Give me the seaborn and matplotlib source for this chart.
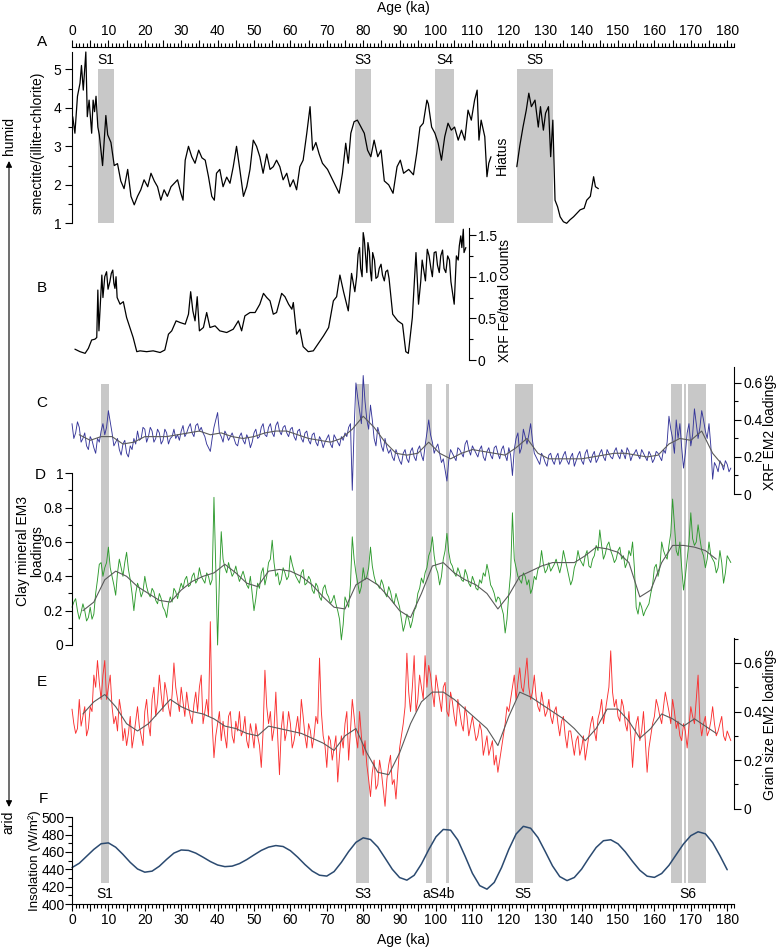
import numpy as np
import matplotlib
matplotlib.use("Agg")
import matplotlib.pyplot as plt
import seaborn as sns
from matplotlib.ticker import MultipleLocator, FuncFormatter
from matplotlib.patches import FancyArrowPatch

### Data ###
# A: smectite/(illite+chlorite), before and after the hiatus
A1_AGE = [0.2, 0.8, 1.5, 2.2, 2.6, 3.1, 3.8, 4.2, 4.7, 5.4,
          5.8, 6.2, 6.6, 7.1, 7.5, 8.4, 8.9, 9.3, 9.8, 10.7,
          11.6, 12.5, 13.4, 14.3, 15.3, 16.2, 17.1, 18.0, 18.9, 19.8,
          20.8, 21.7, 22.6, 23.5, 24.4, 25.3, 26.2, 27.2, 28.1, 29.0,
          29.9, 30.5, 31.1, 32.0, 32.9, 33.8, 34.8, 35.7, 36.6, 37.5,
          38.4, 39.1, 39.7, 40.6, 41.5, 42.5, 43.4, 44.3, 45.2, 46.1,
          47.1, 48.0, 48.9, 49.8, 50.7, 51.6, 52.5, 53.5, 54.4, 55.3,
          56.2, 57.1, 58.0, 59.0, 59.9, 60.8, 61.7, 62.6, 63.5, 64.5,
          65.4, 66.1, 67.0, 67.9, 68.8, 70.2, 71.6, 72.5, 73.4, 74.3,
          75.2, 75.9, 76.6, 77.5, 78.4, 79.4, 80.3, 81.2, 82.1, 83.0,
          84.0, 84.9, 85.8, 87.0, 88.2, 89.3, 90.2, 91.1, 92.5, 93.8,
          94.7, 95.6, 96.5, 97.5, 97.9, 98.8, 99.7, 100.6, 101.5, 102.4,
          103.3, 104.2, 105.1, 106.1, 107.0, 107.9, 108.8, 109.7, 110.6, 111.3,
          111.8, 112.4, 113.4, 114.0, 114.5, 115.1]
A1_VAL = [3.77, 3.34, 4.3, 4.64, 5.1, 4.46, 5.45, 3.77, 4.2, 3.34,
          4.2, 3.9, 4.3, 3.5, 3.3, 2.5, 3.2, 3.8, 3.3, 3.1,
          2.5, 2.55, 2.1, 1.9, 2.4, 1.7, 1.48, 1.7, 1.87, 2.13,
          1.95, 2.3, 2.1, 1.95, 1.6, 1.87, 1.7, 1.95, 2.04, 2.13,
          1.78, 1.6, 2.64, 3.0, 2.73, 2.56, 2.9, 2.7, 2.64, 2.21,
          1.7, 1.6, 2.3, 2.4, 1.95, 2.2, 2.04, 2.47, 3.0, 2.4,
          1.7, 1.95, 2.4, 3.16, 3.0, 2.73, 2.3, 2.8, 2.4, 2.47,
          2.64, 2.47, 2.13, 2.3, 1.95, 2.13, 1.87, 2.47, 2.64, 3.34,
          4.03, 2.9, 3.1, 2.8, 2.56, 2.4, 2.13, 1.95, 1.78, 2.3,
          3.08, 2.56, 3.34, 3.64, 3.68, 3.5, 3.34, 2.9, 2.73, 3.16,
          2.73, 2.9, 2.1, 2.0, 1.78, 2.47, 2.64, 2.3, 2.4, 2.26,
          2.82, 3.5, 3.6, 4.2, 4.1, 3.5, 3.34, 3.08, 2.64, 3.25,
          3.6, 3.42, 3.5, 3.16, 3.42, 3.16, 3.94, 3.68, 4.2, 4.46,
          3.16, 3.68, 3.25, 2.21, 2.56, 2.73]
A2_AGE = [122.2, 123.0, 123.9, 124.8, 125.5, 126.2, 127.2, 128.1, 128.7, 129.5,
          130.1, 130.9, 131.5, 132.1, 132.7, 133.4, 134.1, 135.0, 135.9, 136.8,
          137.8, 138.7, 139.6, 140.7, 141.4, 142.4, 143.3, 143.8, 144.6]
A2_VAL = [2.47, 3.0, 3.5, 3.94, 4.38, 4.03, 4.2, 3.5, 4.03, 3.42,
          3.86, 4.03, 2.73, 3.68, 1.6, 1.43, 1.17, 1.04, 1.0, 1.09,
          1.17, 1.26, 1.35, 1.39, 1.6, 1.7, 2.21, 1.95, 1.9]

# B: XRF Fe/total counts
B_AGE = [0.8, 2.2, 3.6, 4.5, 5.4, 6.3, 6.8, 7.1, 7.4, 8.2,
         8.8, 9.5, 10.4, 11.2, 11.8, 12.4, 13.2, 14.1, 15.0, 15.9,
         16.8, 17.8, 18.7, 20.5, 22.3, 24.2, 25.5, 26.5, 27.4, 28.6,
         29.7, 31.1, 32.0, 32.6, 33.2, 33.8, 34.4, 35.0, 36.1, 37.0,
         37.9, 39.3, 40.6, 42.5, 44.3, 45.7, 46.6, 47.5, 48.9, 50.3,
         51.6, 52.6, 53.5, 54.4, 55.3, 56.2, 57.6, 58.5, 59.5, 60.4,
         60.8, 61.7, 62.6, 63.5, 64.9, 66.3, 67.7, 69.1, 70.5, 71.8,
         72.7, 73.6, 74.6, 75.9, 76.8, 77.7, 78.6, 79.3, 80.0, 80.7,
         81.3, 82.0, 82.6, 83.5, 84.4, 85.3, 86.2, 87.1, 88.1, 89.5,
         90.8, 91.7, 92.4, 93.5, 94.5, 95.2, 95.8, 96.7, 97.6, 98.6,
         99.5, 100.4, 101.3, 102.2, 103.2, 104.1, 105.0, 105.6, 106.4, 106.8,
         107.5, 107.7, 108.2]
B_VAL = [0.13, 0.1, 0.08, 0.14, 0.24, 0.25, 0.27, 0.84, 0.35, 1.02,
         0.9, 1.06, 0.94, 1.08, 0.86, 0.75, 0.67, 0.7, 0.51, 0.39,
         0.27, 0.1, 0.11, 0.1, 0.11, 0.09, 0.12, 0.31, 0.35, 0.47,
         0.45, 0.43, 0.55, 0.82, 0.59, 0.47, 0.76, 0.35, 0.39, 0.57,
         0.39, 0.41, 0.35, 0.33, 0.37, 0.47, 0.35, 0.53, 0.57, 0.57,
         0.67, 0.8, 0.75, 0.71, 0.55, 0.57, 0.8, 0.76, 0.67, 0.61,
         0.69, 0.31, 0.37, 0.16, 0.1, 0.11, 0.2, 0.29, 0.39, 0.71,
         0.76, 1.02, 0.82, 0.59, 1.04, 0.82, 1.27, 1.1, 1.53, 1.22,
         1.41, 1.06, 1.29, 0.98, 1.1, 1.02, 1.06, 0.98, 0.55, 0.47,
         0.43, 0.1, 0.08, 0.51, 1.29, 0.67, 0.94, 1.06, 1.33, 1.1,
         1.29, 1.14, 1.25, 1.1, 1.25, 0.94, 0.67, 1.25, 1.37, 1.49,
         1.57, 1.29, 1.35]
# extra samples in the densely sampled stretches of B
B_EXTRA_AGE = [8.5, 9.0, 9.9, 10.8, 11.5, 12.1, 78.2, 79.0, 79.7, 80.3,
               81.0, 81.7, 82.3, 83.1, 84.0, 84.9, 85.8, 86.7, 96.2, 97.1,
               98.1, 99.0, 100.0, 100.9, 101.8, 102.7, 103.7, 106.1, 107.1]
B_EXTRA_VAL = [0.75, 1.0, 0.85, 1.04, 0.92, 1.0, 1.0, 1.35, 1.0, 1.45,
               1.05, 1.3, 0.95, 1.2, 1.0, 1.15, 0.95, 1.08, 1.2, 0.95,
               1.25, 1.0, 1.3, 1.05, 1.32, 1.05, 1.2, 1.2, 1.35]

# C: XRF EM2 loadings, whole ka (0..181) and half ka (0.5..180.5)
C_RAW = [0.38, 0.33, 0.36, 0.30, 0.26, 0.31, 0.25, 0.30, 0.34, 0.32,
         0.45, 0.33, 0.28, 0.24, 0.27, 0.22, 0.26, 0.30, 0.34, 0.30,
         0.35, 0.31, 0.34, 0.30, 0.33, 0.29, 0.33, 0.30, 0.35, 0.32,
         0.34, 0.31, 0.36, 0.33, 0.37, 0.34, 0.33, 0.27, 0.23, 0.36,
         0.44, 0.31, 0.34, 0.29, 0.33, 0.27, 0.31, 0.29, 0.32, 0.25,
         0.33, 0.30, 0.36, 0.32, 0.36, 0.33, 0.37, 0.34, 0.36, 0.33,
         0.35, 0.31, 0.34, 0.30, 0.33, 0.29, 0.32, 0.28, 0.31, 0.25,
         0.30, 0.27, 0.32, 0.28, 0.31, 0.33, 0.36, 0.02, 0.60, 0.45,
         0.64, 0.40, 0.48, 0.30, 0.36, 0.26, 0.30, 0.22, 0.20, 0.24,
         0.18, 0.22, 0.19, 0.23, 0.20, 0.24, 0.21, 0.26, 0.40, 0.28,
         0.25, 0.22, 0.19, 0.07, 0.24, 0.20, 0.25, 0.22, 0.27, 0.24,
         0.26, 0.22, 0.24, 0.20, 0.23, 0.21, 0.25, 0.22, 0.24, 0.21,
         0.25, 0.10, 0.30, 0.22, 0.35, 0.27, 0.38, 0.22, 0.18, 0.22,
         0.17, 0.21, 0.18, 0.20, 0.16, 0.21, 0.18, 0.20, 0.15, 0.21,
         0.18, 0.22, 0.19, 0.21, 0.17, 0.22, 0.20, 0.24, 0.20, 0.23,
         0.21, 0.24, 0.19, 0.23, 0.21, 0.24, 0.19, 0.22, 0.18, 0.21,
         0.19, 0.22, 0.18, 0.22, 0.42, 0.30, 0.40, 0.38, 0.14, 0.33,
         0.26, 0.46, 0.30, 0.45, 0.34, 0.38, 0.08, 0.15, 0.18, 0.13,
         0.16, 0.14]
C_MID = [0.30, 0.39, 0.28, 0.33, 0.24, 0.29, 0.22, 0.28, 0.38, 0.36,
         0.39, 0.26, 0.30, 0.21, 0.29, 0.20, 0.24, 0.27, 0.29, 0.36,
         0.28, 0.36, 0.28, 0.35, 0.27, 0.35, 0.27, 0.31, 0.30, 0.29,
         0.37, 0.33, 0.38, 0.31, 0.38, 0.36, 0.31, 0.25, 0.30, 0.40,
         0.33, 0.28, 0.32, 0.31, 0.30, 0.26, 0.33, 0.27, 0.30, 0.28,
         0.35, 0.31, 0.38, 0.31, 0.38, 0.31, 0.39, 0.32, 0.37, 0.31,
         0.36, 0.29, 0.35, 0.28, 0.34, 0.27, 0.33, 0.26, 0.29, 0.28,
         0.32, 0.25, 0.30, 0.26, 0.29, 0.31, 0.38, 0.35, 0.52, 0.38,
         0.50, 0.35, 0.40, 0.26, 0.32, 0.23, 0.25, 0.24, 0.18, 0.21,
         0.16, 0.24, 0.17, 0.25, 0.18, 0.26, 0.18, 0.33, 0.32, 0.22,
         0.27, 0.17, 0.13, 0.18, 0.22, 0.18, 0.24, 0.20, 0.29, 0.21,
         0.24, 0.20, 0.26, 0.18, 0.25, 0.19, 0.26, 0.19, 0.26, 0.18,
         0.21, 0.24, 0.33, 0.25, 0.31, 0.32, 0.29, 0.20, 0.16, 0.20,
         0.15, 0.22, 0.16, 0.22, 0.18, 0.23, 0.16, 0.22, 0.18, 0.23,
         0.16, 0.24, 0.17, 0.23, 0.19, 0.24, 0.18, 0.22, 0.19, 0.25,
         0.19, 0.22, 0.25, 0.18, 0.22, 0.21, 0.24, 0.20, 0.23, 0.17,
         0.23, 0.20, 0.24, 0.28, 0.35, 0.22, 0.30, 0.25, 0.22, 0.38,
         0.32, 0.38, 0.36, 0.40, 0.30, 0.26, 0.17, 0.12, 0.16, 0.18,
         0.12]
C_SMOOTH = [0.32, 0.29, 0.31, 0.31, 0.27, 0.28, 0.31, 0.31, 0.31, 0.32,
            0.33, 0.34, 0.32, 0.33, 0.31, 0.30, 0.31, 0.33, 0.34, 0.34,
            0.32, 0.30, 0.29, 0.28, 0.30, 0.35, 0.42, 0.36, 0.28, 0.22,
            0.21, 0.22, 0.28, 0.22, 0.19, 0.22, 0.24, 0.23, 0.22, 0.21,
            0.25, 0.30, 0.22, 0.19, 0.19, 0.19, 0.19, 0.20, 0.21, 0.22,
            0.22, 0.21, 0.20, 0.21, 0.27, 0.30, 0.29, 0.34, 0.22, 0.15]
C_SMOOTH_AGE = np.arange(2, 180, 3)

# D: clay mineral EM3 loadings, whole ka and half ka
D_RAW = [0.22, 0.27, 0.15, 0.24, 0.14, 0.22, 0.18, 0.38, 0.48, 0.45,
         0.57, 0.40, 0.29, 0.50, 0.40, 0.54, 0.38, 0.20, 0.36, 0.28,
         0.40, 0.30, 0.33, 0.26, 0.30, 0.22, 0.16, 0.28, 0.33, 0.27,
         0.36, 0.38, 0.34, 0.40, 0.36, 0.45, 0.38, 0.42, 0.35, 0.86,
         0.00, 0.66, 0.45, 0.48, 0.40, 0.46, 0.37, 0.43, 0.35, 0.40,
         0.20, 0.36, 0.42, 0.35, 0.48, 0.61, 0.40, 0.35, 0.45, 0.38,
         0.52, 0.43, 0.38, 0.42, 0.35, 0.40, 0.32, 0.36, 0.28, 0.33,
         0.30, 0.24, 0.29, 0.20, 0.03, 0.28, 0.22, 0.63, 0.42, 0.30,
         0.45, 0.40, 0.57, 0.40, 0.35, 0.38, 0.30, 0.34, 0.26, 0.30,
         0.22, 0.08, 0.18, 0.10, 0.20, 0.30, 0.39, 0.42, 0.52, 0.63,
         0.45, 0.35, 0.50, 0.65, 0.48, 0.42, 0.45, 0.38, 0.44, 0.36,
         0.40, 0.33, 0.38, 0.42, 0.47, 0.35, 0.30, 0.28, 0.22, 0.07,
         0.30, 0.77, 0.45, 0.38, 0.42, 0.35, 0.30, 0.40, 0.44, 0.55,
         0.42, 0.48, 0.45, 0.50, 0.42, 0.55, 0.45, 0.35, 0.45, 0.55,
         0.48, 0.52, 0.46, 0.50, 0.58, 0.67, 0.50, 0.58, 0.55, 0.48,
         0.55, 0.50, 0.45, 0.55, 0.60, 0.22, 0.25, 0.17, 0.22, 0.30,
         0.45, 0.40, 0.60, 0.52, 0.58, 0.85, 0.55, 0.60, 0.32, 0.50,
         0.77, 0.58, 0.70, 0.55, 0.45, 0.60, 0.50, 0.42, 0.55, 0.36,
         0.52, 0.48]
D_MID = [0.25, 0.20, 0.19, 0.20, 0.16, 0.15, 0.30, 0.47, 0.40, 0.48,
         0.45, 0.35, 0.42, 0.45, 0.48, 0.44, 0.30, 0.30, 0.33, 0.31,
         0.34, 0.28, 0.31, 0.24, 0.27, 0.20, 0.24, 0.25, 0.31, 0.32,
         0.33, 0.40, 0.35, 0.42, 0.38, 0.40, 0.36, 0.40, 0.38, 0.45,
         0.38, 0.50, 0.42, 0.44, 0.42, 0.41, 0.40, 0.39, 0.33, 0.30,
         0.27, 0.33, 0.45, 0.40, 0.50, 0.48, 0.42, 0.38, 0.42, 0.40,
         0.47, 0.40, 0.36, 0.44, 0.36, 0.38, 0.30, 0.34, 0.26, 0.35,
         0.28, 0.26, 0.24, 0.15, 0.12, 0.25, 0.35, 0.50, 0.36, 0.34,
         0.38, 0.45, 0.46, 0.36, 0.33, 0.35, 0.28, 0.31, 0.24, 0.26,
         0.15, 0.12, 0.15, 0.14, 0.22, 0.33, 0.36, 0.45, 0.55, 0.52,
         0.42, 0.40, 0.55, 0.54, 0.46, 0.40, 0.42, 0.37, 0.41, 0.34,
         0.37, 0.32, 0.36, 0.40, 0.42, 0.33, 0.25, 0.27, 0.18, 0.15,
         0.42, 0.50, 0.40, 0.36, 0.40, 0.38, 0.33, 0.38, 0.46, 0.47,
         0.44, 0.43, 0.47, 0.46, 0.47, 0.50, 0.40, 0.38, 0.48, 0.50,
         0.46, 0.55, 0.45, 0.52, 0.55, 0.58, 0.53, 0.60, 0.52, 0.50,
         0.57, 0.52, 0.48, 0.52, 0.45, 0.18, 0.22, 0.20, 0.24, 0.35,
         0.47, 0.45, 0.55, 0.50, 0.65, 0.70, 0.52, 0.45, 0.40, 0.60,
         0.62, 0.60, 0.62, 0.52, 0.50, 0.52, 0.48, 0.45, 0.48, 0.42,
         0.50]
D_SMOOTH = [0.20, 0.25, 0.38, 0.43, 0.40, 0.34, 0.30, 0.26, 0.25, 0.32,
            0.37, 0.40, 0.42, 0.47, 0.42, 0.36, 0.34, 0.43, 0.44, 0.43,
            0.40, 0.35, 0.28, 0.22, 0.21, 0.35, 0.39, 0.35, 0.28, 0.20,
            0.16, 0.30, 0.46, 0.48, 0.42, 0.38, 0.35, 0.30, 0.21, 0.29,
            0.40, 0.43, 0.46, 0.48, 0.48, 0.48, 0.52, 0.57, 0.56, 0.54,
            0.48, 0.28, 0.32, 0.48, 0.58, 0.58, 0.57, 0.55, 0.50]
D_SMOOTH_AGE = np.arange(3, 178, 3)

# E: grain size EM2 loadings, whole ka and half ka
E_RAW = [0.41, 0.31, 0.45, 0.38, 0.30, 0.42, 0.55, 0.61, 0.45, 0.61,
         0.50, 0.42, 0.38, 0.45, 0.28, 0.26, 0.38, 0.30, 0.42, 0.30,
         0.40, 0.35, 0.45, 0.38, 0.55, 0.40, 0.48, 0.38, 0.60, 0.45,
         0.50, 0.38, 0.42, 0.35, 0.48, 0.50, 0.35, 0.45, 0.77, 0.21,
         0.35, 0.28, 0.30, 0.38, 0.30, 0.36, 0.40, 0.32, 0.28, 0.35,
         0.25, 0.30, 0.17, 0.57, 0.35, 0.28, 0.48, 0.14, 0.40, 0.32,
         0.35, 0.28, 0.38, 0.45, 0.30, 0.35, 0.25, 0.38, 0.62, 0.30,
         0.17, 0.28, 0.25, 0.11, 0.30, 0.35, 0.20, 0.45, 0.30, 0.40,
         0.22, 0.18, 0.05, 0.20, 0.10, 0.15, 0.01, 0.18, 0.10, 0.04,
         0.25, 0.35, 0.64, 0.40, 0.63, 0.45, 0.50, 0.63, 0.59, 0.48,
         0.55, 0.45, 0.50, 0.40, 0.48, 0.38, 0.45, 0.35, 0.42, 0.30,
         0.38, 0.28, 0.35, 0.22, 0.30, 0.25, 0.18, 0.15, 0.25, 0.35,
         0.40, 0.50, 0.45, 0.58, 0.48, 0.62, 0.45, 0.55, 0.42, 0.48,
         0.38, 0.45, 0.35, 0.42, 0.30, 0.38, 0.25, 0.32, 0.22, 0.30,
         0.25, 0.20, 0.30, 0.38, 0.28, 0.40, 0.35, 0.45, 0.65, 0.42,
         0.38, 0.45, 0.35, 0.40, 0.17, 0.35, 0.28, 0.40, 0.15, 0.30,
         0.38, 0.42, 0.35, 0.48, 0.40, 0.45, 0.33, 0.30, 0.35, 0.25,
         0.42, 0.35, 0.55, 0.30, 0.38, 0.32, 0.42, 0.30, 0.35, 0.30,
         0.32, 0.28]
E_MID = [0.35, 0.33, 0.34, 0.42, 0.33, 0.40, 0.50, 0.52, 0.55, 0.45,
         0.55, 0.35, 0.32, 0.40, 0.33, 0.31, 0.25, 0.36, 0.34, 0.26,
         0.45, 0.30, 0.50, 0.44, 0.47, 0.52, 0.42, 0.47, 0.50, 0.40,
         0.44, 0.48, 0.38, 0.43, 0.40, 0.55, 0.40, 0.38, 0.35, 0.30,
         0.40, 0.36, 0.25, 0.40, 0.27, 0.32, 0.30, 0.38, 0.25, 0.31,
         0.35, 0.26, 0.32, 0.42, 0.40, 0.33, 0.30, 0.33, 0.28, 0.40,
         0.25, 0.33, 0.30, 0.38, 0.25, 0.32, 0.30, 0.35, 0.40, 0.26,
         0.30, 0.20, 0.30, 0.22, 0.25, 0.40, 0.32, 0.38, 0.25, 0.30,
         0.28, 0.12, 0.15, 0.08, 0.20, 0.08, 0.12, 0.22, 0.12, 0.15,
         0.30, 0.42, 0.48, 0.50, 0.40, 0.55, 0.45, 0.50, 0.55, 0.42,
         0.50, 0.40, 0.52, 0.38, 0.44, 0.34, 0.40, 0.32, 0.38, 0.34,
         0.33, 0.30, 0.32, 0.26, 0.22, 0.28, 0.22, 0.20, 0.30, 0.42,
         0.45, 0.55, 0.52, 0.50, 0.55, 0.50, 0.48, 0.46, 0.40, 0.43,
         0.40, 0.38, 0.40, 0.35, 0.36, 0.30, 0.32, 0.27, 0.28, 0.22,
         0.30, 0.25, 0.35, 0.32, 0.37, 0.45, 0.40, 0.50, 0.48, 0.45,
         0.36, 0.42, 0.32, 0.30, 0.28, 0.38, 0.32, 0.28, 0.25, 0.35,
         0.45, 0.38, 0.42, 0.44, 0.35, 0.40, 0.36, 0.28, 0.32, 0.34,
         0.38, 0.45, 0.36, 0.35, 0.30, 0.36, 0.35, 0.32, 0.38, 0.28,
         0.30]
E_SMOOTH = [0.39, 0.44, 0.47, 0.42, 0.35, 0.32, 0.35, 0.40, 0.45, 0.42,
            0.40, 0.39, 0.37, 0.34, 0.33, 0.31, 0.30, 0.34, 0.33, 0.32,
            0.31, 0.29, 0.27, 0.24, 0.30, 0.33, 0.23, 0.15, 0.14, 0.23,
            0.35, 0.44, 0.48, 0.48, 0.45, 0.41, 0.37, 0.33, 0.26, 0.38,
            0.48, 0.46, 0.43, 0.40, 0.37, 0.33, 0.28, 0.33, 0.41, 0.41,
            0.36, 0.29, 0.33, 0.39, 0.37, 0.34, 0.37, 0.34, 0.31]
E_SMOOTH_AGE = np.arange(3, 178, 3)

# F: insolation (W/m2), every 2 ka from 0 ka
F_INSOL = [442, 447, 455, 463, 469.5, 470.5, 465.5, 457.2, 448.0, 440.4,
           436.7, 437.9, 443.6, 451.5, 458.7, 462.3, 461.8, 458.7, 454.0, 449.0,
           445.0, 443.1, 443.7, 446.6, 451.2, 456.6, 461.8, 465.6, 467.4, 466.3,
           461.5, 454.0, 445.5, 438.0, 433.2, 432.2, 437.4, 448.0, 460.5, 471.1,
           476.3, 474.4, 465.8, 453.0, 440.0, 430.5, 427.5, 433.1, 446.2, 462.7,
           477.5, 486.0, 485.2, 473.7, 455.1, 435.4, 421.2, 417.1, 424.9, 442.0,
           463.0, 480.7, 489.6, 487.4, 476.7, 460.6, 444.0, 431.6, 427.0, 430.6,
           440.2, 453.1, 465.2, 473.0, 474.1, 469.4, 460.2, 449.1, 438.9, 432.1,
           430.7, 435.2, 444.6, 457.0, 469.3, 478.8, 483.3, 481.0, 470.8, 455.8,
           439.5]
F_AGE = np.arange(0, 181, 2)

# grey bands (start, end in ka)
A_BANDS = [(7.1, 11.5), (77.8, 82.1), (99.7, 104.9), (122.3, 132.1)]
A_BAND_LABELS = ["S1", "S3", "S4", "S5"]
LOW_BANDS = [(8.0, 10.3), (78.0, 81.7), (97.3, 98.8), (102.8, 103.7),
             (121.7, 126.7), (164.6, 167.5), (168.0, 168.7), (169.2, 174.3)]
LOW_LABELS = ["S1", "S3", "aS4b", "S5", "S6"]
LOW_LABEL_AGE = [9.1, 80.0, 100.6, 123.9, 169.2]

### Style ###
sns.set_style("ticks")
plt.rcParams["font.family"] = ["Liberation Sans", "DejaVu Sans"]
plt.rcParams.update({"font.size": 10, "axes.linewidth": 0.8,
                     "axes.edgecolor": "black", "text.color": "black",
                     "xtick.color": "black", "ytick.color": "black"})

BAND = "#c8c8c8"
SMOOTH = "#5a5a5a"

W, H = 780, 949
X0, KA = 72.0, 3.64   # pixel of 0 ka, pixels per ka
XMAX = 182

fig = plt.figure(figsize=(W / 100, H / 100), dpi=100)


def panel(top, bottom, xmax=XMAX, z=2):
    ax = fig.add_axes([X0 / W, 1 - bottom / H, xmax * KA / W, (bottom - top) / H])
    ax.patch.set_alpha(0)
    ax.set_zorder(z)
    for s in ax.spines.values():
        s.set_visible(False)
    ax.tick_params(which="major", direction="out", width=0.8, length=4.8, labelsize=10, pad=1.5)
    ax.tick_params(which="minor", direction="out", width=0.8, length=2.8)
    return ax


def ptext(x, y, s, **kw):
    fig.text(x / W, 1 - y / H, s, ha="center", va="center", **kw)


def line(ax, x, y, color, lw):
    sns.lineplot(x=x, y=y, ax=ax, color=color, linewidth=lw, estimator=None, sort=True)


def dense(whole, half):
    # whole-ka samples plus the half-ka samples between them
    ages = np.concatenate([np.arange(len(whole)), np.arange(len(half)) + 0.5])
    return ages, list(whole) + list(half)


def finish(ax, xmax, ylim):
    ax.set_xlim(0, xmax)
    ax.set_ylim(*ylim)
    ax.set_xlabel("")
    ax.set_ylabel("")
    for ln in ax.lines:
        ln.set_clip_on(False)


fmt_g = FuncFormatter(lambda v, p: f"{v:g}")

### background bands spanning panels C-F ###
bg = panel(0, H, z=0)
bg.bar([s for s, e in LOW_BANDS], 883 - 384, width=[e - s for s, e in LOW_BANDS],
       bottom=384, align="edge", color=BAND, linewidth=0)
bg.set_xlim(0, XMAX)
bg.set_ylim(H, 0)
bg.set_xticks([])
bg.set_yticks([])

### top age axis ###
ax_top = panel(47, 60)
ax_top.spines["top"].set_visible(True)
ax_top.xaxis.tick_top()
ax_top.set_xlim(0, XMAX)
ax_top.set_xticks(np.arange(0, 181, 5))
ax_top.xaxis.set_major_formatter(FuncFormatter(lambda v, p: f"{v:.0f}" if v % 10 == 0 else ""))
ax_top.xaxis.set_minor_locator(MultipleLocator(1))
ax_top.set_yticks([])
ptext(403, 8, "Age (ka)", fontsize=10)

### A ###
ax_a = panel(52, 223.3)
ax_a.bar([s for s, e in A_BANDS], 4, width=[e - s for s, e in A_BANDS], bottom=1,
         align="edge", color=BAND, linewidth=0, zorder=0)
line(ax_a, A1_AGE, A1_VAL, "black", 0.9)
line(ax_a, A2_AGE, A2_VAL, "black", 0.9)
finish(ax_a, XMAX, (1, 5.45))
for (s, e), lab in zip(A_BANDS, A_BAND_LABELS):
    ax_a.text((s + e) / 2, 5.24, lab, ha="center", va="center", fontsize=10)
ax_a.text(118.1, 2.77, "Hiatus", rotation=90, ha="center", va="center", fontsize=10)
ax_a.spines["left"].set_visible(True)
ax_a.set_xticks([])
ax_a.yaxis.set_major_locator(MultipleLocator(1))
ax_a.yaxis.set_minor_locator(MultipleLocator(0.5))
ax_a.yaxis.set_major_formatter(fmt_g)
ax_a.tick_params(axis="y", pad=3)

### B ###
B_XMAX = (469 - X0) / KA
ax_b = panel(228, 360, xmax=B_XMAX)
line(ax_b, B_AGE + B_EXTRA_AGE, B_VAL + B_EXTRA_VAL, "black", 0.9)
finish(ax_b, B_XMAX, (0, 1.585))
ax_b.spines["right"].set_visible(True)
ax_b.set_xticks([])
ax_b.yaxis.tick_right()
ax_b.yaxis.set_major_locator(MultipleLocator(0.5))
ax_b.yaxis.set_minor_locator(MultipleLocator(0.25))
ax_b.yaxis.set_major_formatter(FuncFormatter(lambda v, p: "0" if v == 0 else f"{v:.1f}"))

### C ###
ax_c = panel(367, 494)
line(ax_c, *dense(C_RAW, C_MID), "#36369a", 0.65)
line(ax_c, C_SMOOTH_AGE, C_SMOOTH, SMOOTH, 0.8)
finish(ax_c, XMAX, (0, 0.686))
ax_c.spines["right"].set_visible(True)
ax_c.set_xticks([])
ax_c.yaxis.tick_right()
ax_c.yaxis.set_major_locator(MultipleLocator(0.2))
ax_c.yaxis.set_minor_locator(MultipleLocator(0.1))
ax_c.yaxis.set_major_formatter(fmt_g)

### D ###
ax_d = panel(473.3, 645)
line(ax_d, *dense(D_RAW, D_MID), "#2e9a2e", 0.65)
line(ax_d, D_SMOOTH_AGE, D_SMOOTH, SMOOTH, 0.8)
finish(ax_d, XMAX, (0, 1))
ax_d.spines["left"].set_visible(True)
ax_d.set_xticks([])
ax_d.yaxis.set_major_locator(MultipleLocator(0.2))
ax_d.yaxis.set_minor_locator(MultipleLocator(0.1))
ax_d.yaxis.set_major_formatter(fmt_g)

### E ###
ax_e = panel(637.7, 808.7)
line(ax_e, *dense(E_RAW, E_MID), "#fa3030", 0.65)
line(ax_e, E_SMOOTH_AGE, E_SMOOTH, SMOOTH, 0.8)
finish(ax_e, XMAX, (0, 0.704))
ax_e.spines["right"].set_visible(True)
ax_e.set_xticks([])
ax_e.yaxis.tick_right()
ax_e.yaxis.set_major_locator(MultipleLocator(0.2))
ax_e.yaxis.set_minor_locator(MultipleLocator(0.1))
ax_e.yaxis.set_major_formatter(fmt_g)

### F ###
ax_f = panel(817.3, 904)
line(ax_f, F_AGE, F_INSOL, "#2b4a70", 1.1)
finish(ax_f, XMAX, (400, 500))
for lab, age in zip(LOW_LABELS, LOW_LABEL_AGE):
    ax_f.text(age, 411, lab, ha="center", va="center", fontsize=10)
ax_f.spines["left"].set_visible(True)
ax_f.spines["bottom"].set_visible(True)
ax_f.set_xticks(np.arange(0, 181, 5))
ax_f.xaxis.set_major_formatter(FuncFormatter(lambda v, p: f"{v:.0f}" if v % 10 == 0 else ""))
ax_f.xaxis.set_minor_locator(MultipleLocator(1))
ax_f.yaxis.set_major_locator(MultipleLocator(20))
ax_f.yaxis.set_minor_locator(MultipleLocator(10))
ax_f.tick_params(axis="x", pad=2)
ax_f.tick_params(axis="y", pad=0.5)
ptext(403, 940, "Age (ka)", fontsize=10)

### panel letters and axis titles ###
for lab, (x, y) in zip("ABCDEF", [(42, 42), (42, 288), (42, 403), (40, 475), (42, 682), (43, 799)]):
    ptext(x, y, lab, fontsize=11)

ptext(38, 143, "smectite/(illite+chlorite)", rotation=90)
ptext(505, 300, "XRF Fe/total counts", rotation=90)
ptext(770, 432, "XRF EM2 loadings", rotation=90)
ptext(30, 551, "Clay mineral EM3\nloadings", rotation=90, multialignment="center", linespacing=1.05)
ptext(770, 724, "Grain size EM2 loadings", rotation=90)
ptext(35, 861, "Insolation (W/m²)", rotation=90, fontsize=9.5)

# humid / arid arrow
ptext(8.5, 136, "humid", rotation=90)
ptext(8.5, 822, "arid", rotation=90)
fig.add_artist(FancyArrowPatch((9 / W, 1 - 161 / H), (9 / W, 1 - 807 / H),
                               transform=fig.transFigure, arrowstyle="<|-|>",
                               mutation_scale=9, lw=0.8, color="black",
                               shrinkA=0, shrinkB=0))

fig.savefig("out.png", dpi=100)
